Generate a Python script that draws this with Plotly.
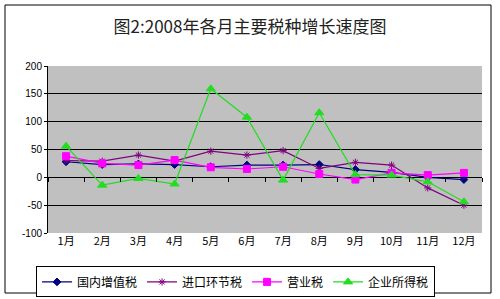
import plotly.graph_objects as go

months = ["1月", "2月", "3月", "4月", "5月", "6月", "7月", "8月", "9月", "10月", "11月", "12月"]
vat_domestic = [28, 23, 24, 23, 19, 22, 22, 23, 14, 9, 0, -4]
import_tax = [30, 29, 40, 29, 47, 40, 48, 16, 27, 22, -19, -50]
business_tax = [38, 25, 22, 31, 18, 15, 19, 6, -4, 8, 4, 8]
corp_income_tax = [56, -14, -2, -12, 159, 108, -5, 116, 5, 4, -8, -44]

series_names = ["国内增值税", "进口环节税", "营业税", "企业所得税"]
y_ticks = [-100, -50, 0, 50, 100, 150, 200]
y_ticktext = ["-100", "-50", "0", "50", "100", "150", "200"]

font_cjk = "Noto Sans CJK SC, SimSun, sans-serif"

fig = go.Figure()
styles = [
    (vat_domestic, "#000080", "diamond", 6, 1.2),
    (import_tax, "#800080", "asterisk-open", 6, 1.2),
    (business_tax, "#FF00FF", "square", 7, 1.2),
    (corp_income_tax, "#22DD22", "triangle-up", 8, 1.2),
]
for name, (vals, col, sym, sz, lw) in zip(series_names, styles):
    fig.add_trace(go.Scatter(
        x=months, y=vals, name=name, mode="lines+markers",
        line=dict(color=col, width=lw),
        marker=dict(symbol=sym, size=sz, color=col, line=dict(color=col, width=1)),
    ))

# invisible trace to carry the tick-only axis at y=0
fig.add_trace(go.Scatter(x=months, y=[0]*12, xaxis="x2", mode="lines",
                         line=dict(width=0), showlegend=False, hoverinfo="skip"))

zero_pos = (0 - (-100)) / 300.0

fig.update_layout(
    width=500, height=299,
    margin=dict(l=48, r=18, t=66, b=66, autoexpand=False),
    paper_bgcolor="white",
    plot_bgcolor="#C0C0C0",
    title=dict(text="图2:2008年各月主要税种增长速度图", x=0.5, xanchor="center",
               y=1 - 27/299, yanchor="middle",
               font=dict(family=font_cjk, size=17, color="#222222")),
    font=dict(family=font_cjk, size=11, color="black"),
    xaxis=dict(type="category", showgrid=False, zeroline=False, showline=False,
               ticks="", tickfont=dict(size=11), range=[-0.5, 11.5], automargin=False),
    xaxis2=dict(type="category", overlaying="x", anchor="free", position=zero_pos,
                side="bottom", showticklabels=False, ticks="outside", ticklen=4,
                tickcolor="black", tickson="boundaries", showgrid=False,
                showline=False, zeroline=False, range=[-0.5, 11.5]),
    yaxis=dict(range=[-100, 200], tickvals=y_ticks, ticktext=y_ticktext,
               showgrid=True, gridcolor="black", gridwidth=1, zeroline=False,
               showline=True, linecolor="black", linewidth=1,
               ticks="outside", ticklen=3, tickcolor="black", automargin=False,
               tickfont=dict(size=10, family="SimSun, Liberation Sans, sans-serif")),
    legend=dict(orientation="h", x=-0.0276, xanchor="left", y=-0.2, yanchor="top",
                bordercolor="black", borderwidth=1, bgcolor="white",
                font=dict(size=12, family=font_cjk), itemwidth=30,
                tracegroupgap=0),
    showlegend=True,
)

# outer chart border
fig.add_shape(type="rect", xref="paper", yref="paper",
              x0=-43/434, x1=443/434, y0=-60/167, y1=1 + 61/167,
              line=dict(color="black", width=1), fillcolor="rgba(0,0,0,0)", layer="below")

fig.write_html("out.html")
